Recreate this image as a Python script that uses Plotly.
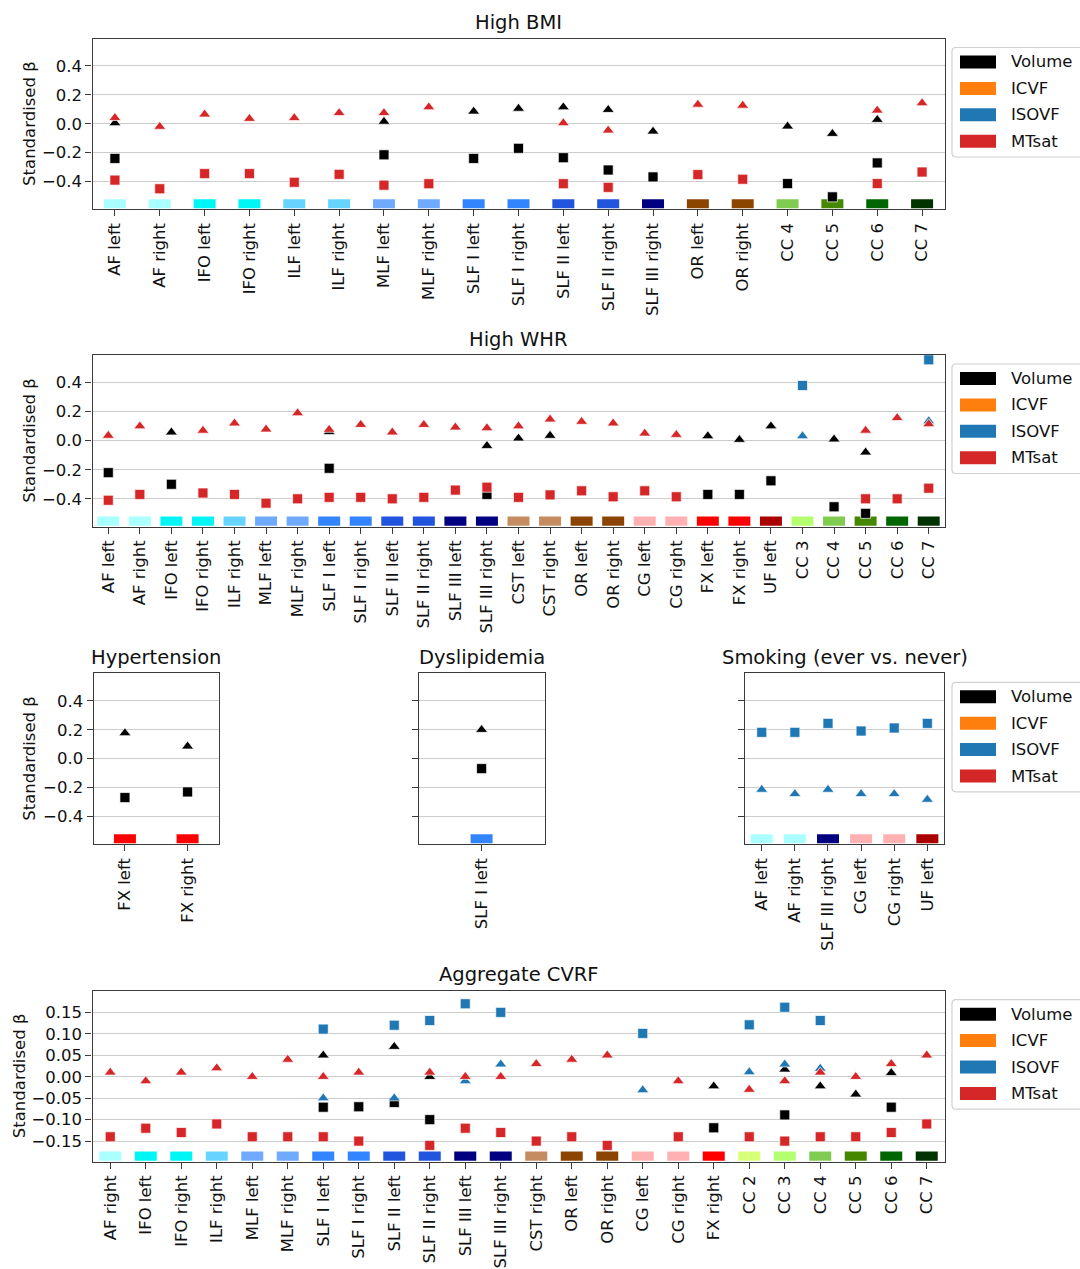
import plotly.graph_objects as go

W, H = 1080, 1269
N = None

# ---------------- data ----------------
bmi_cats = ["AF left", "AF right", "IFO left", "IFO right", "ILF left", "ILF right",
            "MLF left", "MLF right", "SLF I left", "SLF I right", "SLF II left",
            "SLF II right", "SLF III right", "OR left", "OR right", "CC 4", "CC 5", "CC 6", "CC 7"]
bmi_vol_sq = [-0.24, N, N, N, N, N, -0.215, N, -0.24, -0.17, -0.235, -0.32, -0.368, N, N, -0.414, -0.506, -0.271, N]
bmi_vol_tri = [0.005, N, N, N, N, N, 0.015, N, 0.085, 0.105, 0.115, 0.097, -0.053, N, N, -0.018, -0.069, 0.028, N]
bmi_mt_sq = [-0.39, -0.45, -0.345, -0.345, -0.405, -0.35, -0.425, -0.415, N, N, -0.415, -0.44, N, -0.352, -0.384, N, N, -0.414, -0.334]
bmi_mt_tri = [0.041, -0.02, 0.065, 0.035, 0.04, 0.075, 0.075, 0.115, N, N, 0.005, -0.046, N, 0.133, 0.126, N, N, 0.092, 0.143]

whr_cats = ["AF left", "AF right", "IFO left", "IFO right", "ILF right", "MLF left", "MLF right",
            "SLF I left", "SLF I right", "SLF II left", "SLF II right", "SLF III left", "SLF III right",
            "CST left", "CST right", "OR left", "OR right", "CG left", "CG right", "FX left", "FX right",
            "UF left", "CC 3", "CC 4", "CC 5", "CC 6", "CC 7"]
whr_vol_sq = [-0.22, N, -0.30, N, N, N, N, -0.19, N, N, N, N, -0.37, N, N, N, N, N, N, -0.37, -0.37, -0.276, N, -0.455, -0.50, N, N]
whr_vol_tri = [N, N, 0.058, N, N, N, N, 0.06, N, N, N, N, -0.035, 0.016, 0.035, N, N, N, N, 0.032, 0.007, 0.10, N, 0.01, -0.08, N, N]
whr_iso_sq = [N] * 22 + [0.38, N, N, N, 0.557]
whr_iso_tri = [N] * 22 + [0.032, N, N, N, 0.135]
whr_mt_sq = [-0.41, -0.37, N, -0.36, -0.37, -0.43, -0.40, -0.39, -0.39, -0.40, -0.39, -0.34, -0.32, -0.39, -0.373,
             -0.345, -0.386, -0.345, -0.386, N, N, N, N, N, -0.40, -0.40, -0.327]
whr_mt_tri = [0.035, 0.10, N, 0.07, 0.12, 0.078, 0.19, 0.076, 0.11, 0.058, 0.11, 0.092, 0.087, 0.10, 0.147,
              0.131, 0.12, 0.05, 0.041, N, N, N, N, N, 0.07, 0.157, 0.115]

hyp_cats = ["FX left", "FX right"]
hyp_vol_sq = [-0.269, -0.23]
hyp_vol_tri = [0.177, 0.085]

dys_cats = ["SLF I left"]
dys_vol_sq = [-0.069]
dys_vol_tri = [0.2]

smk_cats = ["AF left", "AF right", "SLF III right", "CG left", "CG right", "UF left"]
smk_iso_sq = [0.182, 0.182, 0.244, 0.191, 0.212, 0.244]
smk_iso_tri = [-0.214, -0.244, -0.214, -0.244, -0.244, -0.283]

agg_cats = ["AF right", "IFO left", "IFO right", "ILF right", "MLF left", "MLF right", "SLF I left",
            "SLF I right", "SLF II left", "SLF II right", "SLF III left", "SLF III right", "CST right",
            "OR left", "OR right", "CG left", "CG right", "FX right", "CC 2", "CC 3", "CC 4", "CC 5", "CC 6", "CC 7"]
agg_vol_sq = [N, N, N, N, N, N, -0.071, -0.07, -0.06, -0.10, N, N, N, N, N, N, N, -0.119, N, -0.089, N, N, -0.071, N]
agg_vol_tri = [N, N, N, N, N, N, 0.05, N, 0.07, 0.0, N, N, N, N, N, N, N, -0.022, N, 0.017, -0.022, -0.041, 0.009, N]
agg_iso_sq = [N, N, N, N, N, N, 0.111, N, 0.12, 0.131, 0.17, 0.15, N, N, N, 0.101, N, N, 0.121, 0.162, 0.131, N, N, N]
agg_iso_tri = [N, N, N, N, N, N, -0.05, N, -0.05, N, -0.01, 0.029, N, N, N, -0.031, N, N, 0.011, 0.029, 0.019, N, N, N]
agg_mt_sq = [-0.14, -0.12, -0.13, -0.11, -0.14, -0.14, -0.14, -0.15, N, -0.16, -0.12, -0.13, -0.15, -0.14, -0.16,
             N, -0.14, N, -0.14, -0.15, -0.14, -0.14, -0.13, -0.11]
agg_mt_tri = [0.01, -0.01, 0.01, 0.02, 0.0, 0.04, 0.0, 0.01, N, 0.01, 0.0, 0.0, 0.03, 0.04, 0.05,
              N, -0.01, N, -0.03, -0.01, 0.01, 0.0, 0.03, 0.05]

legend_labels = ["Volume", "ICVF", "ISOVF", "MTsat"]
yticks_main = [-0.4, -0.2, 0.0, 0.2, 0.4]
yticks_agg = [-0.15, -0.10, -0.05, 0.0, 0.05, 0.10, 0.15]

# ---------------- styles ----------------
C_VOL, C_ICVF, C_ISO, C_MT = "#000000", "#ff7f0e", "#1f77b4", "#d62728"
metric_colors = [C_VOL, C_ICVF, C_ISO, C_MT]
tract_color = {
    "AF": "#aaffff", "IFO": "#00f5f5", "ILF": "#66d4ff", "MLF": "#70aaff",
    "SLF I": "#3385ff", "SLF II": "#2255dd", "SLF III": "#000080",
    "CST": "#c48c60", "OR": "#8b4500", "CG": "#ffb0b0", "FX": "#ff0000", "UF": "#aa0000",
    "CC 2": "#d8ff78", "CC 3": "#b3ff70", "CC 4": "#80cc50", "CC 5": "#448800",
    "CC 6": "#006600", "CC 7": "#003300",
}


def tcolor(name):
    if name.startswith("CC"):
        return tract_color[name]
    base = name.rsplit(" ", 1)[0]
    return tract_color[base]


FONT = "DejaVu Sans"
TICK_SIZE = 16.5
TITLE_SIZE = 19.5
AX = "#3a3a3a"
SQ_SIZE = 10
TRI_SIZE = 10.5


def fx(p):
    return p / W


def fy(p):
    return 1 - p / H


# panels: (name, cats, x0, x1, y0, y1, yrange, yticks, fmt, showyl)
YR = [-0.592, 0.59]
panels = [
    ("High BMI", bmi_cats, 92.5, 944.5, 38.5, 209.3, YR, yticks_main, ".1f", True),
    ("High WHR", whr_cats, 92.5, 944.5, 355.0, 526.7, YR, yticks_main, ".1f", True),
    ("Hypertension", hyp_cats, 93.6, 218.9, 673.3, 844.3, YR, yticks_main, ".1f", True),
    ("Dyslipidemia", dys_cats, 418.6, 544.6, 673.3, 844.3, YR, yticks_main, ".1f", False),
    ("Smoking (ever vs. never)", smk_cats, 745.2, 943.9, 673.3, 844.3, YR, yticks_main, ".1f", False),
    ("Aggregate CVRF", agg_cats, 92.5, 944.5, 990.7, 1161.7, [-0.198, 0.2005], yticks_agg, ".2f", True),
]

series = [
    # (panel index, values, color, symbol)
    (0, bmi_vol_tri, C_VOL, "triangle-up"), (0, bmi_vol_sq, C_VOL, "square"),
    (0, bmi_mt_tri, C_MT, "triangle-up"), (0, bmi_mt_sq, C_MT, "square"),
    (1, whr_vol_tri, C_VOL, "triangle-up"), (1, whr_vol_sq, C_VOL, "square"),
    (1, whr_iso_tri, C_ISO, "triangle-up"), (1, whr_iso_sq, C_ISO, "square"),
    (1, whr_mt_tri, C_MT, "triangle-up"), (1, whr_mt_sq, C_MT, "square"),
    (2, hyp_vol_tri, C_VOL, "triangle-up"), (2, hyp_vol_sq, C_VOL, "square"),
    (3, dys_vol_tri, C_VOL, "triangle-up"), (3, dys_vol_sq, C_VOL, "square"),
    (4, smk_iso_tri, C_ISO, "triangle-up"), (4, smk_iso_sq, C_ISO, "square"),
    (5, agg_vol_tri, C_VOL, "triangle-up"), (5, agg_vol_sq, C_VOL, "square"),
    (5, agg_iso_tri, C_ISO, "triangle-up"), (5, agg_iso_sq, C_ISO, "square"),
    (5, agg_mt_tri, C_MT, "triangle-up"), (5, agg_mt_sq, C_MT, "square"),
]

fig = go.Figure()
layout = dict(
    width=W, height=H, margin=dict(l=0, r=0, t=0, b=0),
    paper_bgcolor="white", plot_bgcolor="white", showlegend=False,
    font=dict(family=FONT, size=TICK_SIZE, color="#111"),
)
annotations = []
shapes = []

for i, (title, cats, x0, x1, y0, y1, yr, yt, fmt, showyl) in enumerate(panels):
    k = "" if i == 0 else str(i + 1)
    n = len(cats)
    layout["xaxis" + k] = dict(
        domain=[fx(x0), fx(x1)], anchor="y" + k, type="category",
        categoryorder="array", categoryarray=cats, range=[-0.5, n - 0.5],
        tickangle=-90, showline=True, mirror=True, linecolor=AX, linewidth=1.2,
        ticks="outside", ticklen=6, tickwidth=1.2, tickcolor=AX, showgrid=False,
        zeroline=False, tickfont=dict(family=FONT, size=TICK_SIZE, color="#111"),
        fixedrange=True,
    )
    layout["yaxis" + k] = dict(
        domain=[fy(y1), fy(y0)], anchor="x" + k, range=yr, tickvals=yt,
        tickformat=fmt, showticklabels=showyl, showline=True, mirror=True,
        linecolor=AX, linewidth=1.2, ticks="outside", ticklen=6, tickwidth=1.2,
        tickcolor=AX, showgrid=True, gridcolor="#cccccc", gridwidth=1.3,
        zeroline=False, tickfont=dict(family=FONT, size=TICK_SIZE, color="#111"),
        fixedrange=True,
    )
    # tract colour bars (22 px wide, drawn at bottom of axis)
    span = yr[1] - yr[0]
    px_per_cat = (x1 - x0) / n
    fig.add_trace(go.Bar(
        x=cats, y=[span * 0.053] * n, base=[yr[0] + span * 0.006] * n,
        width=22 / px_per_cat, marker=dict(color=[tcolor(c) for c in cats], line=dict(width=0)),
        xaxis="x" + k, yaxis="y" + k, hoverinfo="skip",
    ))
    # title
    annotations.append(dict(
        text=title, x=fx((x0 + x1) / 2), y=fy(y0 - 16), xref="paper", yref="paper",
        xanchor="center", yanchor="middle", showarrow=False,
        font=dict(family=FONT, size=TITLE_SIZE, color="#111"),
    ))
    if showyl:
        annotations.append(dict(
            text="Standardised β", x=fx(19 if i == 5 else 30), y=fy((y0 + y1) / 2),
            xref="paper", yref="paper", xanchor="center", yanchor="middle",
            textangle=-90, showarrow=False, font=dict(family=FONT, size=TICK_SIZE, color="#111"),
        ))

for (pi, vals, col, sym) in series:
    k = "" if pi == 0 else str(pi + 1)
    cats = panels[pi][1]
    fig.add_trace(go.Scatter(
        x=cats, y=vals, mode="markers", xaxis="x" + k, yaxis="y" + k,
        marker=dict(symbol=sym, color=col, size=SQ_SIZE if sym == "square" else TRI_SIZE,
                    line=dict(color="white", width=0.7)),
        hoverinfo="skip", cliponaxis=False,
    ))

# legends (drawn for panels 1, 2, smoking, aggregate)
for pi in [0, 1, 4, 5]:
    top = panels[pi][4]
    bx0, bx1 = 952.0, 1095.0
    by0, by1 = top + 9, top + 118.5
    r = 4
    path = (f"M {fx(bx1)},{fy(by0)} L {fx(bx0 + r)},{fy(by0)} "
            f"Q {fx(bx0)},{fy(by0)} {fx(bx0)},{fy(by0 + r)} "
            f"L {fx(bx0)},{fy(by1 - r)} Q {fx(bx0)},{fy(by1)} {fx(bx0 + r)},{fy(by1)} "
            f"L {fx(bx1)},{fy(by1)}")
    shapes.append(dict(type="path", path=path, xref="paper", yref="paper",
                       line=dict(color="#d0d0d0", width=1.2)))
    for j, (lab, col) in enumerate(zip(legend_labels, metric_colors)):
        cy = top + 23.5 + 26.4 * j
        shapes.append(dict(type="rect", xref="paper", yref="paper",
                           x0=fx(960), x1=fx(996), y0=fy(cy + 6.5), y1=fy(cy - 6.5),
                           fillcolor=col, line=dict(width=0)))
        annotations.append(dict(
            text=lab, x=fx(1009), y=fy(cy), xref="paper", yref="paper",
            xanchor="left", yanchor="middle", showarrow=False,
            font=dict(family=FONT, size=TICK_SIZE, color="#111"),
        ))

layout["annotations"] = annotations
layout["shapes"] = shapes
fig.update_layout(**layout)
fig.write_html("out.html")
